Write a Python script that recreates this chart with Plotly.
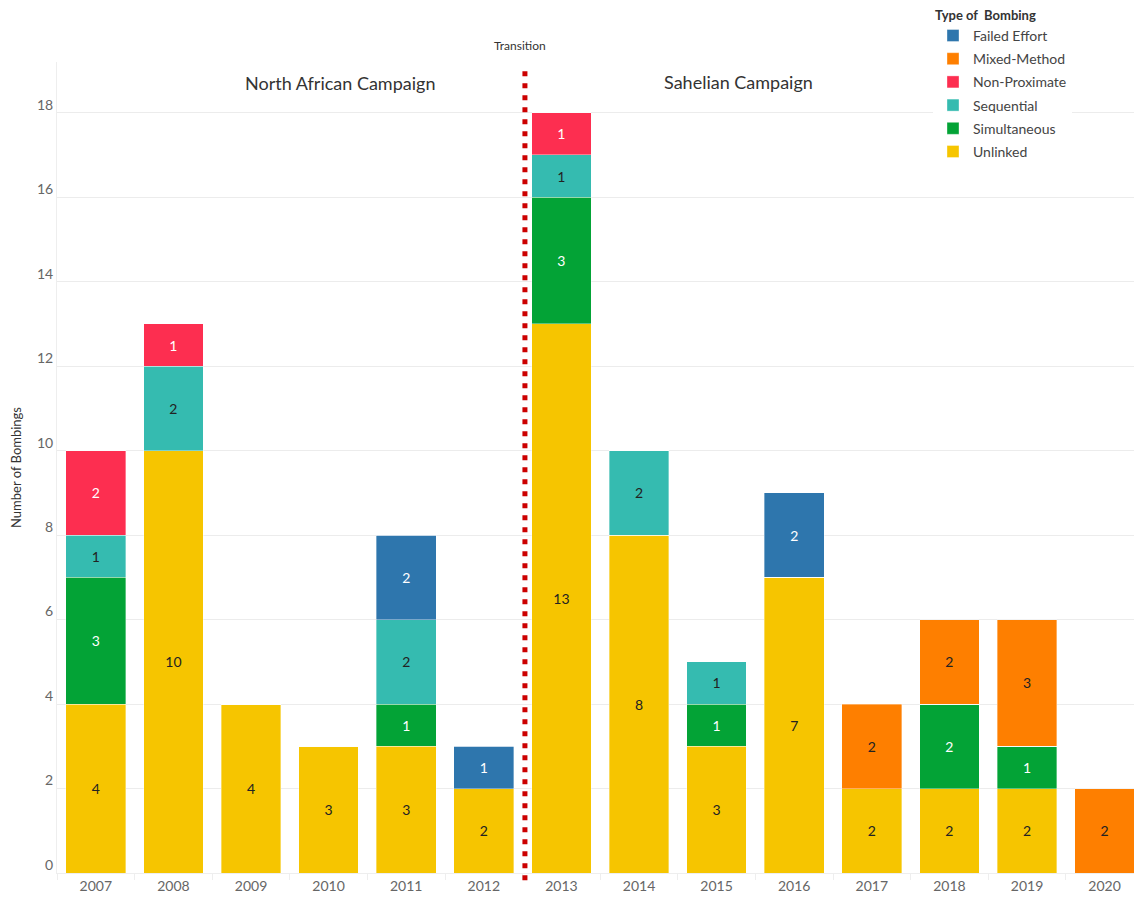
import plotly.graph_objects as go

years = ["2007", "2008", "2009", "2010", "2011", "2012", "2013",
         "2014", "2015", "2016", "2017", "2018", "2019", "2020"]
unlinked      = [4, 10, 4, 3, 3, 2, 13, 8, 3, 7, 2, 2, 2, 0]
simultaneous  = [3, 0, 0, 0, 1, 0, 3, 0, 1, 0, 0, 2, 1, 0]
sequential    = [1, 2, 0, 0, 2, 0, 1, 2, 1, 0, 0, 0, 0, 0]
non_proximate = [2, 1, 0, 0, 0, 0, 1, 0, 0, 0, 0, 0, 0, 0]
failed_effort = [0, 0, 0, 0, 2, 1, 0, 0, 0, 2, 0, 0, 0, 0]
mixed_method  = [0, 0, 0, 0, 0, 0, 0, 0, 0, 0, 2, 2, 3, 2]

y_ticks = [0, 2, 4, 6, 8, 10, 12, 14, 16, 18]

# stacking order bottom -> top, with legend rank (alphabetical legend)
series = [
    ("Unlinked", unlinked, "#f6c500", "#222222", 6),
    ("Simultaneous", simultaneous, "#03a336", "#ffffff", 5),
    ("Sequential", sequential, "#35bbb0", "#222222", 4),
    ("Non-Proximate", non_proximate, "#fd2e50", "#ffffff", 3),
    ("Failed Effort", failed_effort, "#2e76ad", "#ffffff", 1),
    ("Mixed-Method", mixed_method, "#fe7f00", "#222222", 2),
]

FONT = "Lato"

fig = go.Figure()
for name, vals, color, tcolor, rank in series:
    fig.add_trace(go.Bar(
        x=years, y=vals, name=name,
        marker=dict(color=color, line=dict(color="rgba(255,255,255,0.6)", width=0.6)),
        text=[str(v) if v else "" for v in vals],
        textposition="inside", insidetextanchor="middle",
        textfont=dict(color=tcolor, size=14, family=FONT),
        constraintext="none",
        legendrank=rank, legendgroup=name,
        hoverinfo="skip",
    ))

L, R, T, B = 57, 0, 62, 25
W, H = 1134, 898
pw = W - L - R
ph = H - T - B
step = 77.6
x_end = pw / step - 0.5


def px_x(x):
    return (x - L) / pw


def px_y(y):
    return (H - B - y) / ph


fig.update_layout(
    width=W, height=H,
    barmode="stack", bargap=0.23,
    plot_bgcolor="white", paper_bgcolor="white",
    margin=dict(l=L, r=R, t=T, b=B),
    font=dict(family=FONT, color="#555555", size=13),
    legend=dict(
        title=dict(text="<b>Type of  Bombing</b>", font=dict(size=13, color="#333333", family=FONT)),
        x=px_x(933), xanchor="left",
        y=px_y(3), yanchor="top",
        bgcolor="white", font=dict(size=14, color="#444444", family=FONT),
        tracegroupgap=2, traceorder="grouped",
    ),
    xaxis=dict(
        type="category", range=[-0.5, x_end],
        showgrid=False, ticks="outside", tickson="boundaries",
        ticklen=6, tickcolor="#eeeeee",
        tickfont=dict(size=14, color="#666666", family=FONT),
        showline=True, linecolor="#eeeeee", linewidth=1,
    ),
    yaxis=dict(
        range=[0, 19.2], tickvals=y_ticks,
        showgrid=True, gridcolor="#ececec", gridwidth=1,
        zeroline=False,
        showline=True, linecolor="#eeeeee", linewidth=1,
        tickfont=dict(size=14, color="#666666", family=FONT),
        ticklabelshift=-8,
        title=dict(text="Number of Bombings", font=dict(size=13, color="#333333", family=FONT), standoff=12),
    ),
)

# transition dotted line between 2012 and 2013
fig.add_shape(type="line", xref="x", yref="paper",
              x0=5.53, x1=5.53, y0=-0.009, y1=0.99,
              line=dict(color="#cc0000", width=5, dash="5px,7px"))

for txt, x, y, size in [("North African Campaign", 340, 83, 18),
                        ("Sahelian Campaign", 738, 82, 18),
                        ("Transition", 520, 46, 12)]:
    fig.add_annotation(text=txt, xref="paper", yref="paper",
                       x=px_x(x), y=px_y(y), xanchor="center", yanchor="middle",
                       showarrow=False,
                       font=dict(size=size, color="#333333", family=FONT))

fig.write_html("out.html", config={"displayModeBar": False},
               post_script="document.body.style.margin='0';")
